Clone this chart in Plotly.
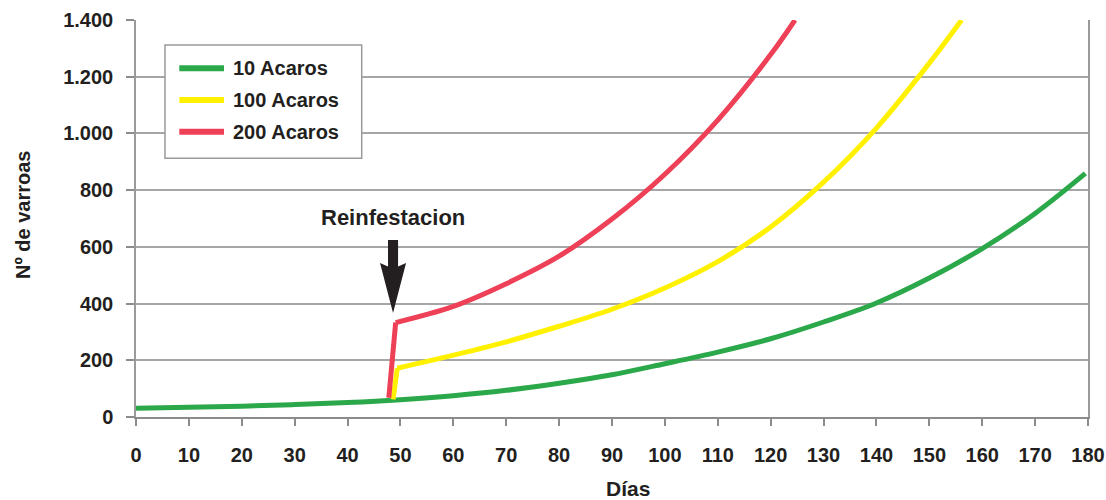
import plotly.graph_objects as go

# Varroa population growth (days vs. number of mites) for three reinfestation levels
days_10 = [0, 10, 20, 30, 40, 50, 60, 70, 80, 90, 100, 110, 120, 130, 140, 150, 160, 170, 179.5]
mites_10 = [31, 34, 38, 44, 51, 61, 75, 94, 119, 149, 188, 229, 276, 335, 402, 490, 594, 718, 859]

days_100 = [48.6, 49.4, 60, 70, 80, 90, 100, 110, 120, 130, 140, 150, 156.1]
mites_100 = [62, 172, 218, 265, 320, 380, 455, 548, 670, 828, 1019, 1248, 1400]

days_200 = [47.8, 49.1, 60, 70, 80, 90, 100, 110, 120, 124.6]
mites_200 = [68, 333, 390, 470, 567, 698, 856, 1047, 1278, 1400]

series_names = ["10 Acaros", "100 Acaros", "200 Acaros"]
series_colors = ["#2ba84a", "#fff100", "#ee4057"]

x_ticks = list(range(0, 181, 10))
y_ticks = [0, 200, 400, 600, 800, 1000, 1200, 1400]
y_tick_labels = ["0", "200", "400", "600", "800", "1.000", "1.200", "1.400"]

FONT = "Arial, Liberation Sans, Helvetica, sans-serif"
INK = "#231f20"
GRID = "#a6a6a6"
LINE_W = 5

fig = go.Figure()

# Green series: one smooth curve
fig.add_trace(go.Scatter(x=days_10, y=mites_10, mode="lines", name=series_names[0],
                         line=dict(color=series_colors[0], width=LINE_W, shape="spline", smoothing=1.0),
                         showlegend=False))

# Reinfested series: straight jump, then smooth growth curve
for dx, dy, name, col in [(days_100, mites_100, series_names[1], series_colors[1]),
                          (days_200, mites_200, series_names[2], series_colors[2])]:
    fig.add_trace(go.Scatter(x=dx[:2], y=dy[:2], mode="lines", name=name,
                             line=dict(color=col, width=LINE_W), showlegend=False))
    fig.add_trace(go.Scatter(x=dx[1:], y=dy[1:], mode="lines", name=name,
                             line=dict(color=col, width=LINE_W, shape="spline", smoothing=1.0),
                             showlegend=False))

# Legend box
fig.add_shape(type="rect", xref="paper", yref="paper",
              x0=(165 - 136) / 952, x1=(361.7 - 136) / 952,
              y0=(417 - 158.3) / 397, y1=(417 - 45) / 397,
              line=dict(color="#9a9a9a", width=1.5), fillcolor="white", layer="above")
for i, (name, col) in enumerate(zip(series_names, series_colors)):
    ypx = 68.3 + i * 31.7
    yp = (417 - ypx) / 397
    fig.add_shape(type="line", xref="paper", yref="paper",
                  x0=(179.3 - 136) / 952, x1=(224 - 136) / 952, y0=yp, y1=yp,
                  line=dict(color=col, width=6), layer="above")
    fig.add_annotation(xref="paper", yref="paper", x=(231 - 136) / 952, y=yp,
                       text=name, showarrow=False, xanchor="left", yanchor="middle",
                       font=dict(family=FONT, size=20, color=INK, weight="bold"))

# Reinfestation arrow
ax_c = 48.6
fig.add_shape(type="path", xref="x", yref="y",
              path=(f"M {ax_c-0.95},624 L {ax_c+0.95},624 L {ax_c+0.95},531 "
                    f"L {ax_c+2.46},543 L {ax_c},367 L {ax_c-2.46},543 L {ax_c-0.95},531 Z"),
              fillcolor=INK, line=dict(color=INK, width=0), layer="above")
fig.add_annotation(x=48.5, y=702, xref="x", yref="y", text="Reinfestacion", showarrow=False,
                   xanchor="center", yanchor="middle",
                   font=dict(family=FONT, size=22, color=INK, weight="bold"))

# Axis titles
fig.add_annotation(xref="paper", yref="paper", x=(23 - 136) / 952, y=(417 - 215) / 397,
                   text="Nº de varroas", textangle=-90, showarrow=False,
                   xanchor="center", yanchor="middle",
                   font=dict(family=FONT, size=20, color=INK, weight="bold"))
fig.add_annotation(xref="paper", yref="paper", x=(628 - 136) / 952, y=(417 - 489) / 397,
                   text="Días", showarrow=False, xanchor="center", yanchor="middle",
                   font=dict(family=FONT, size=21, color=INK, weight="bold"))

fig.update_xaxes(range=[0, 180], tickvals=x_ticks, ticks="outside", ticklen=7, tickwidth=1.5,
                 tickcolor="#8c8c8c", showline=True, linecolor="#8c8c8c", linewidth=2,
                 showgrid=False, zeroline=False, mirror=False, ticklabelstandoff=12,
                 ticklabeloverflow="allow", automargin=False,
                 tickfont=dict(family=FONT, size=20, color=INK, weight="bold"))
fig.update_yaxes(range=[0, 1400], tickvals=y_ticks, ticktext=y_tick_labels, ticks="outside",
                 ticklen=8, tickwidth=1.5, tickcolor="#8c8c8c", showline=True,
                 linecolor="#9a9a9a", linewidth=1.5, mirror=True, showgrid=True,
                 gridcolor=GRID, gridwidth=1.5, zeroline=False, ticklabelstandoff=9,
                 automargin=False,
                 tickfont=dict(family=FONT, size=20, color=INK, weight="bold"))

fig.update_layout(width=1106, height=500, margin=dict(l=136, r=18, t=20, b=83),
                  paper_bgcolor="white", plot_bgcolor="white", showlegend=False)

fig.write_html("out.html")
